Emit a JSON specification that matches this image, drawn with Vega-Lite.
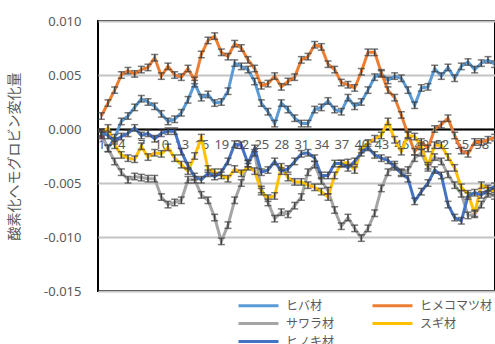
{
  "$schema": "https://vega.github.io/schema/vega-lite/v6.json",
  "width": 397,
  "height": 270,
  "autosize": {"type": "none"},
  "padding": {"left": 98, "top": 21, "right": 0, "bottom": 53},
  "background": "white",
  "config": {"view": {"stroke": "#000000", "strokeWidth": 2}, "font": "Noto Sans"},
  "data": {"values": [
    {"t":1,"ヒバ材":-0.0005,"ヒメコマツ材":0.0012,"サワラ材":-0.0006,"スギ材":-0.0004,"ヒノキ材":-0.0003,"e":0.0003},
    {"t":2,"ヒバ材":-0.0018,"ヒメコマツ材":0.0024,"サワラ材":-0.0018,"スギ材":0.0001,"ヒノキ材":-0.0006,"e":0.0003},
    {"t":3,"ヒバ材":-0.0008,"ヒメコマツ材":0.0036,"サワラ材":-0.0030,"スギ材":-0.0015,"ヒノキ材":-0.0011,"e":0.0003},
    {"t":4,"ヒバ材":0.0007,"ヒメコマツ材":0.0050,"サワラ材":-0.0040,"スギ材":-0.0024,"ヒノキ材":-0.0007,"e":0.0003},
    {"t":5,"ヒバ材":0.0012,"ヒメコマツ材":0.0054,"サワラ材":-0.0047,"スギ材":-0.0027,"ヒノキ材":-0.0004,"e":0.0003},
    {"t":6,"ヒバ材":0.0020,"ヒメコマツ材":0.0051,"サワラ材":-0.0044,"スギ材":-0.0028,"ヒノキ材":0.0001,"e":0.0003},
    {"t":7,"ヒバ材":0.0028,"ヒメコマツ材":0.0055,"サワラ材":-0.0045,"スギ材":-0.0016,"ヒノキ材":-0.0006,"e":0.0003},
    {"t":8,"ヒバ材":0.0025,"ヒメコマツ材":0.0057,"サワラ材":-0.0046,"スギ材":-0.0026,"ヒノキ材":-0.0004,"e":0.0003},
    {"t":9,"ヒバ材":0.0021,"ヒメコマツ材":0.0066,"サワラ材":-0.0046,"スギ材":-0.0022,"ヒノキ材":-0.0009,"e":0.0003},
    {"t":10,"ヒバ材":0.0014,"ヒメコマツ材":0.0049,"サワラ材":-0.0063,"スギ材":-0.0023,"ヒノキ材":-0.0004,"e":0.0003},
    {"t":11,"ヒバ材":0.0007,"ヒメコマツ材":0.0058,"サワラ材":-0.0070,"スギ材":-0.0017,"ヒノキ材":-0.0002,"e":0.0003},
    {"t":12,"ヒバ材":0.0009,"ヒメコマツ材":0.0050,"サワラ材":-0.0068,"スギ材":-0.0027,"ヒノキ材":-0.0002,"e":0.0003},
    {"t":13,"ヒバ材":0.0015,"ヒメコマツ材":0.0048,"サワラ材":-0.0066,"スギ材":-0.0033,"ヒノキ材":-0.0021,"e":0.0003},
    {"t":14,"ヒバ材":0.0027,"ヒメコマツ材":0.0056,"サワラ材":-0.0047,"スギ材":-0.0039,"ヒノキ材":-0.0034,"e":0.0003},
    {"t":15,"ヒバ材":0.0042,"ヒメコマツ材":0.0045,"サワラ材":-0.0047,"スギ材":-0.0025,"ヒノキ材":-0.0044,"e":0.0003},
    {"t":16,"ヒバ材":0.0029,"ヒメコマツ材":0.0069,"サワラ材":-0.0061,"スギ材":-0.0008,"ヒノキ材":-0.0047,"e":0.0003},
    {"t":17,"ヒバ材":0.0032,"ヒメコマツ材":0.0082,"サワラ材":-0.0066,"スギ材":-0.0037,"ヒノキ材":-0.0041,"e":0.0003},
    {"t":18,"ヒバ材":0.0024,"ヒメコマツ材":0.0086,"サワラ材":-0.0082,"スギ材":-0.0040,"ヒノキ材":-0.0044,"e":0.0003},
    {"t":19,"ヒバ材":0.0025,"ヒメコマツ材":0.0071,"サワラ材":-0.0104,"スギ材":-0.0043,"ヒノキ材":-0.0040,"e":0.0003},
    {"t":20,"ヒバ材":0.0035,"ヒメコマツ材":0.0067,"サワラ材":-0.0089,"スギ材":-0.0046,"ヒノキ材":-0.0030,"e":0.0003},
    {"t":21,"ヒバ材":0.0061,"ヒメコマツ材":0.0079,"サワラ材":-0.0066,"スギ材":-0.0037,"ヒノキ材":-0.0014,"e":0.0003},
    {"t":22,"ヒバ材":0.0058,"ヒメコマツ材":0.0075,"サワラ材":-0.0050,"スギ材":-0.0041,"ヒノキ材":-0.0015,"e":0.0003},
    {"t":23,"ヒバ材":0.0055,"ヒメコマツ材":0.0064,"サワラ材":-0.0032,"スギ材":-0.0035,"ヒノキ材":-0.0032,"e":0.0003},
    {"t":24,"ヒバ材":0.0044,"ヒメコマツ材":0.0056,"サワラ材":-0.0022,"スギ材":-0.0039,"ヒノキ材":-0.0018,"e":0.0003},
    {"t":25,"ヒバ材":0.0024,"ヒメコマツ材":0.0040,"サワラ材":-0.0056,"スギ材":-0.0058,"ヒノキ材":-0.0040,"e":0.0003},
    {"t":26,"ヒバ材":0.0016,"ヒメコマツ材":0.0042,"サワラ材":-0.0068,"スギ材":-0.0064,"ヒノキ材":-0.0038,"e":0.0003},
    {"t":27,"ヒバ材":0.0005,"ヒメコマツ材":0.0049,"サワラ材":-0.0083,"スギ材":-0.0062,"ヒノキ材":-0.0030,"e":0.0003},
    {"t":28,"ヒバ材":0.0024,"ヒメコマツ材":0.0039,"サワラ材":-0.0077,"スギ材":-0.0035,"ヒノキ材":-0.0039,"e":0.0003},
    {"t":29,"ヒバ材":0.0018,"ヒメコマツ材":0.0044,"サワラ材":-0.0079,"スギ材":-0.0045,"ヒノキ材":-0.0037,"e":0.0003},
    {"t":30,"ヒバ材":0.0010,"ヒメコマツ材":0.0048,"サワラ材":-0.0071,"スギ材":-0.0049,"ヒノキ材":-0.0030,"e":0.0003},
    {"t":31,"ヒバ材":0.0005,"ヒメコマツ材":0.0064,"サワラ材":-0.0063,"スギ材":-0.0049,"ヒノキ材":-0.0023,"e":0.0003},
    {"t":32,"ヒバ材":0.0005,"ヒメコマツ材":0.0067,"サワラ材":-0.0040,"スギ材":-0.0052,"ヒノキ材":-0.0022,"e":0.0003},
    {"t":33,"ヒバ材":0.0018,"ヒメコマツ材":0.0078,"サワラ材":-0.0033,"スギ材":-0.0054,"ヒノキ材":-0.0027,"e":0.0003},
    {"t":34,"ヒバ材":0.0020,"ヒメコマツ材":0.0076,"サワラ材":-0.0048,"スギ材":-0.0058,"ヒノキ材":-0.0043,"e":0.0003},
    {"t":35,"ヒバ材":0.0026,"ヒメコマツ材":0.0060,"サワラ材":-0.0057,"スギ材":-0.0063,"ヒノキ材":-0.0043,"e":0.0003},
    {"t":36,"ヒバ材":0.0018,"ヒメコマツ材":0.0055,"サワラ材":-0.0075,"スギ材":-0.0043,"ヒノキ材":-0.0032,"e":0.0003},
    {"t":37,"ヒバ材":0.0016,"ヒメコマツ材":0.0043,"サワラ材":-0.0090,"スギ材":-0.0032,"ヒノキ材":-0.0032,"e":0.0003},
    {"t":38,"ヒバ材":0.0029,"ヒメコマツ材":0.0041,"サワラ材":-0.0082,"スギ材":-0.0031,"ヒノキ材":-0.0036,"e":0.0003},
    {"t":39,"ヒバ材":0.0021,"ヒメコマツ材":0.0038,"サワラ材":-0.0092,"スギ材":-0.0038,"ヒノキ材":-0.0030,"e":0.0003},
    {"t":40,"ヒバ材":0.0025,"ヒメコマツ材":0.0053,"サワラ材":-0.0101,"スギ材":-0.0019,"ヒノキ材":-0.0022,"e":0.0003},
    {"t":41,"ヒバ材":0.0036,"ヒメコマツ材":0.0071,"サワラ材":-0.0092,"スギ材":-0.0013,"ヒノキ材":-0.0017,"e":0.0003},
    {"t":42,"ヒバ材":0.0048,"ヒメコマツ材":0.0071,"サワラ材":-0.0078,"スギ材":-0.0009,"ヒノキ材":-0.0024,"e":0.0003},
    {"t":43,"ヒバ材":0.0051,"ヒメコマツ材":0.0052,"サワラ材":-0.0055,"スギ材":-0.0006,"ヒノキ材":-0.0027,"e":0.0003},
    {"t":44,"ヒバ材":0.0045,"ヒメコマツ材":0.0036,"サワラ材":-0.0040,"スギ材":0.0007,"ヒノキ材":-0.0029,"e":0.0003},
    {"t":45,"ヒバ材":0.0049,"ヒメコマツ材":0.0029,"サワラ材":-0.0033,"スギ材":-0.0010,"ヒノキ材":-0.0035,"e":0.0003},
    {"t":46,"ヒバ材":0.0047,"ヒメコマツ材":0.0013,"サワラ材":-0.0040,"スギ材":-0.0021,"ヒノキ材":-0.0041,"e":0.0003},
    {"t":47,"ヒバ材":0.0036,"ヒメコマツ材":-0.0005,"サワラ材":-0.0038,"スギ材":-0.0006,"ヒノキ材":-0.0046,"e":0.0003},
    {"t":48,"ヒバ材":0.0022,"ヒメコマツ材":-0.0021,"サワラ材":-0.0027,"スギ材":-0.0007,"ヒノキ材":-0.0067,"e":0.0003},
    {"t":49,"ヒバ材":0.0038,"ヒメコマツ材":-0.0012,"サワラ材":-0.0022,"スギ材":-0.0016,"ヒノキ材":-0.0058,"e":0.0003},
    {"t":50,"ヒバ材":0.0039,"ヒメコマツ材":-0.0018,"サワラ材":-0.0036,"スギ材":-0.0034,"ヒノキ材":-0.0050,"e":0.0003},
    {"t":51,"ヒバ材":0.0056,"ヒメコマツ材":0.0000,"サワラ材":-0.0026,"スギ材":-0.0015,"ヒノキ材":-0.0038,"e":0.0003},
    {"t":52,"ヒバ材":0.0049,"ヒメコマツ材":0.0004,"サワラ材":-0.0030,"スギ材":-0.0015,"ヒノキ材":-0.0043,"e":0.0003},
    {"t":53,"ヒバ材":0.0057,"ヒメコマツ材":0.0010,"サワラ材":-0.0042,"スギ材":-0.0026,"ヒノキ材":-0.0070,"e":0.0003},
    {"t":54,"ヒバ材":0.0047,"ヒメコマツ材":-0.0006,"サワラ材":-0.0052,"スギ材":-0.0036,"ヒノキ材":-0.0082,"e":0.0003},
    {"t":55,"ヒバ材":0.0058,"ヒメコマツ材":-0.0020,"サワラ材":-0.0060,"スギ材":-0.0054,"ヒノキ材":-0.0085,"e":0.0003},
    {"t":56,"ヒバ材":0.0062,"ヒメコマツ材":-0.0023,"サワラ材":-0.0080,"スギ材":-0.0060,"ヒノキ材":-0.0062,"e":0.0003},
    {"t":57,"ヒバ材":0.0055,"ヒメコマツ材":-0.0012,"サワラ材":-0.0079,"スギ材":-0.0078,"ヒノキ材":-0.0059,"e":0.0003},
    {"t":58,"ヒバ材":0.0061,"ヒメコマツ材":-0.0012,"サワラ材":-0.0070,"スギ材":-0.0052,"ヒノキ材":-0.0061,"e":0.0003},
    {"t":59,"ヒバ材":0.0064,"ヒメコマツ材":-0.0010,"サワラ材":-0.0060,"スギ材":-0.0055,"ヒノキ材":-0.0057,"e":0.0003},
    {"t":60,"ヒバ材":0.0060,"ヒメコマツ材":-0.0008,"サワラ材":-0.0062,"スギ材":-0.0058,"ヒノキ材":-0.0053,"e":0.0003}
  ]},
  "transform": [{"fold": ["ヒバ材", "ヒメコマツ材", "サワラ材", "スギ材", "ヒノキ材"], "as": ["s", "v"]}],
  "encoding": {
    "x": {"field": "t", "type": "quantitative",
      "scale": {"domain": [0.5, 60.05], "nice": false, "zero": false},
      "axis": {"values": [1,4,7,10,13,16,19,22,25,28,31,34,37,40,43,46,49,52,55,58],
        "offset": -162, "title": null, "grid": false, "ticks": false,
        "domain": true, "domainColor": "#000000", "domainWidth": 2,
        "labelColor": "#595959", "labelFontSize": 13, "labelPadding": 9,
        "labelFlush": false, "labelOverlap": false}},
    "y": {"field": "v", "type": "quantitative",
      "scale": {"domain": [-0.015, 0.01], "nice": false, "zero": false},
      "axis": {"values": [-0.015, -0.01, -0.005, 0, 0.005, 0.01], "format": ".3f",
        "labelExpr": "replace(datum.label, '\u2212', '-')",
        "ticks": false, "domain": false, "labelPadding": 17,
        "labelColor": "#595959", "labelFontSize": 13,
        "gridColor": "#c4c4c4", "gridWidth": 2,
        "title": "酸素化ヘモグロビン変化量", "titleFont": "Noto Sans CJK JP",
        "titleFontSize": 14, "titleFontWeight": "normal", "titleColor": "#595959",
        "titlePadding": 22}}
  },
  "layer": [
    {"mark": {"type": "line", "strokeWidth": 3},
     "encoding": {"color": {"field": "s", "type": "nominal",
        "scale": {"domain": ["ヒバ材", "ヒメコマツ材", "サワラ材", "スギ材", "ヒノキ材"],
                  "range": ["#5B9BD5", "#ED7D31", "#A5A5A5", "#FFC000", "#4472C4"]},
        "legend": {"orient": "none", "legendX": 139, "legendY": 278, "columns": 2,
          "direction": "horizontal",
          "title": null, "symbolType": "M-1,0H7", "symbolSize": 100, "symbolStrokeWidth": 3,
          "labelFont": "Noto Sans CJK JP", "labelFontSize": 12, "labelColor": "#595959",
          "labelOffset": 36, "rowPadding": 5, "columnPadding": 31, "padding": 0}}}},
    {"mark": {"type": "errorbar", "ticks": {"size": 7}, "color": "#404040", "thickness": 1.5},
     "encoding": {"yError": {"field": "e"}, "detail": {"field": "s", "type": "nominal"}}}
  ]
}
